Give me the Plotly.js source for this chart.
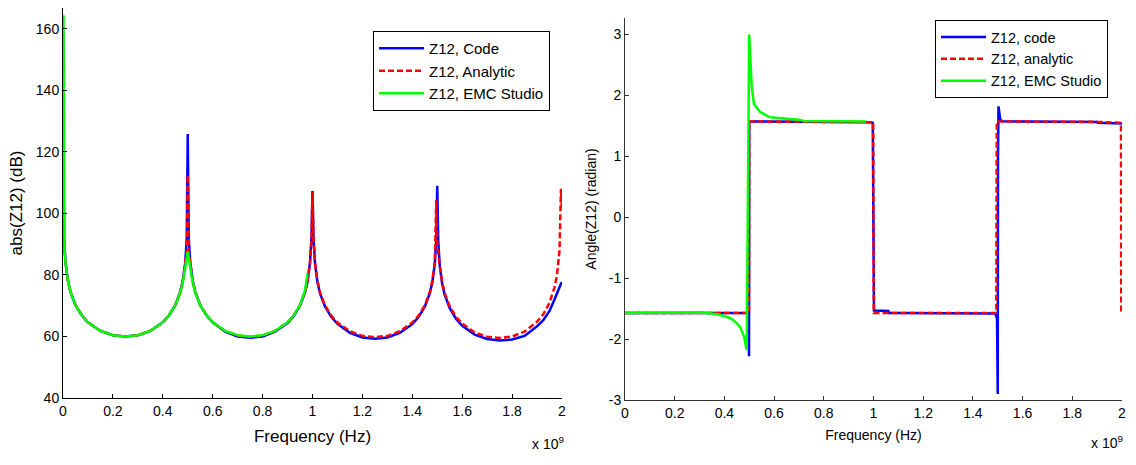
<!DOCTYPE html>
<html>
<head>
<meta charset="utf-8">
<script src="https://cdn.plot.ly/plotly-3.0.1.min.js"></script>
<style>
html,body{margin:0;padding:0;background:#fff;}
#chart{width:1136px;height:465px;}
</style>
</head>
<body>
<div id="chart"></div>
<script>
// ---- Magnitude plot data (frequency in units of 1e9 Hz) ----
const fMag = [0, 0.004, 0.01, 0.02, 0.03, 0.05, 0.075, 0.1, 0.15, 0.2, 0.25, 0.3, 0.35, 0.4, 0.425, 0.45, 0.47, 0.48, 0.49, 0.496, 0.5, 0.504, 0.51, 0.52, 0.53, 0.55, 0.575, 0.6, 0.65, 0.7, 0.75, 0.8, 0.85, 0.9, 0.925, 0.95, 0.97, 0.98, 0.99, 0.996, 1.0, 1.004, 1.01, 1.02, 1.03, 1.05, 1.075, 1.1, 1.15, 1.2, 1.25, 1.3, 1.35, 1.4, 1.425, 1.45, 1.47, 1.48, 1.49, 1.496, 1.5, 1.504, 1.51, 1.52, 1.53, 1.55, 1.575, 1.6, 1.65, 1.7, 1.75, 1.8, 1.85, 1.9, 1.925, 1.95, 1.97, 1.98, 1.99, 1.996, 2.0];
const magCode = [160, 92, 84, 78, 74.5, 70.2, 66.9, 64.6, 61.8, 60.4, 60, 60.4, 61.8, 64.6, 66.9, 70.2, 74.5, 78, 84, 92, 125.8, 92, 84, 78, 74.5, 70.2, 66.9, 64.6, 61.6, 60, 59.6, 60, 61.6, 64.4, 66.7, 70, 74.3, 77.8, 84, 92, 107.3, 92, 83.8, 77.6, 74, 69.8, 66.4, 64.1, 61.2, 59.7, 59.3, 59.7, 61.2, 64, 66.3, 69.7, 74, 77.5, 83.5, 91.5, 109, 91, 83, 77, 73.5, 69.2, 65.8, 63.5, 60.6, 59.2, 58.7, 59, 60.2, 63.3, 65.3, 68.3, 72, 74, 76.3, 77.2, 77.6];
const magAnalytic = [150, 92, 84, 78, 74.5, 70.2, 66.9, 64.6, 61.8, 60.4, 60, 60.4, 61.8, 64.6, 66.9, 70.2, 74.5, 78, 84, 88, 112.5, 88, 84, 78, 74.5, 70.2, 66.9, 64.6, 61.8, 60.3, 59.8, 60.3, 61.8, 64.6, 66.9, 70.2, 74.5, 78, 84, 92, 107, 92, 84, 78, 74.4, 70.1, 66.8, 64.5, 61.7, 60.2, 59.8, 60.2, 61.7, 64.5, 66.8, 70.1, 74.4, 78, 84, 104.4, 90, 86, 83, 77.5, 74, 69.8, 66.4, 64.2, 61.3, 59.9, 59.5, 60, 61.6, 64.8, 67.2, 71, 76, 80, 88, 108, 101];
const fMagEMC = [0, 0.002, 0.006, 0.01, 0.02, 0.03, 0.05, 0.075, 0.1, 0.15, 0.2, 0.25, 0.3, 0.35, 0.4, 0.425, 0.45, 0.47, 0.48, 0.49, 0.5, 0.51, 0.52, 0.53, 0.55, 0.575, 0.6, 0.65, 0.7, 0.75, 0.8, 0.85, 0.9, 0.925, 0.95, 0.97, 0.98];
const magEMC = [164, 164, 88, 84, 78, 74.5, 70.2, 66.9, 64.6, 61.8, 60.4, 60, 60.4, 61.8, 64.6, 66.9, 70.2, 74.3, 77.5, 82.5, 87.6, 82.5, 77.5, 74.3, 70.2, 66.9, 64.6, 61.8, 60.4, 60, 60.4, 61.8, 64.6, 66.9, 70.2, 75, 80.6];

// ---- Angle plot data ----
const fAngCode = [0, 0.1, 0.2, 0.3, 0.4, 0.45, 0.49, 0.497, 0.499, 0.5, 0.502, 0.55, 0.6, 0.7, 0.8, 0.9, 0.95, 0.99, 0.997, 0.999, 1.002, 1.06, 1.062, 1.1, 1.2, 1.3, 1.4, 1.45, 1.49, 1.497, 1.5, 1.501, 1.503, 1.51, 1.52, 1.6, 1.7, 1.8, 1.9, 1.902, 1.95, 2.0];
const angCode = [-1.571, -1.571, -1.571, -1.571, -1.571, -1.571, -1.571, -1.59, -2.28, 1.571, 1.571, 1.571, 1.571, 1.571, 1.571, 1.571, 1.571, 1.56, 1.55, -1.52, -1.53, -1.54, -1.571, -1.571, -1.571, -1.571, -1.571, -1.571, -1.58, -1.66, -2.9, 1.0, 1.82, 1.6, 1.575, 1.571, 1.571, 1.571, 1.565, 1.55, 1.55, 1.54];
const fAngAnalytic = [0, 0.1, 0.2, 0.3, 0.4, 0.499, 0.5, 0.6, 0.7, 0.8, 0.9, 0.999, 1.001, 1.1, 1.2, 1.3, 1.4, 1.494, 1.496, 1.6, 1.7, 1.8, 1.9, 1.99, 1.996, 1.997];
const angAnalytic = [-1.571, -1.571, -1.571, -1.571, -1.571, -1.571, 1.571, 1.571, 1.571, 1.571, 1.571, 1.56, -1.571, -1.571, -1.571, -1.571, -1.571, -1.571, 1.571, 1.571, 1.571, 1.571, 1.565, 1.55, 1.55, -1.55];
const fAngEMC = [0, 0.1, 0.2, 0.3, 0.35, 0.38, 0.42, 0.436, 0.45, 0.463, 0.479, 0.49, 0.4996, 0.505, 0.51, 0.519, 0.543, 0.583, 0.636, 0.7, 0.72, 0.8, 0.9, 0.97];
const angEMC = [-1.571, -1.571, -1.571, -1.565, -1.58, -1.6, -1.65, -1.69, -1.74, -1.8, -1.96, -2.18, 3.0, 2.5, 2.14, 1.86, 1.73, 1.64, 1.62, 1.6, 1.58, 1.575, 1.571, 1.571];

// ---- Tick labels ----
const xTickVals = [0, 0.2, 0.4, 0.6, 0.8, 1, 1.2, 1.4, 1.6, 1.8, 2];
const xTickText = ["0", "0.2", "0.4", "0.6", "0.8", "1", "1.2", "1.4", "1.6", "1.8", "2"];
const magTickVals = [40, 60, 80, 100, 120, 140, 160];
const magTickText = ["40", "60", "80", "100", "120", "140", "160"];
const angTickVals = [-3, -2, -1, 0, 1, 2, 3];
const angTickText = ["-3", "-2", "-1", "0", "1", "2", "3"];

const namesLeft = ["Z12, Code", "Z12, Analytic", "Z12, EMC Studio"];
const namesRight = ["Z12, code", "Z12, analytic", "Z12, EMC Studio"];

const BLUE = "#0000ff", RED = "#ff0000", GREEN = "#00ff00";
const LW = 2.5;

const traces = [
  {x: fMag, y: magCode, xaxis: "x", yaxis: "y", mode: "lines", name: namesLeft[0], line: {color: BLUE, width: LW}, legend: "legend"},
  {x: fMag, y: magAnalytic, xaxis: "x", yaxis: "y", mode: "lines", name: namesLeft[1], line: {color: RED, width: LW, dash: "6px,3px"}, legend: "legend"},
  {x: fMagEMC, y: magEMC, xaxis: "x", yaxis: "y", mode: "lines", name: namesLeft[2], line: {color: GREEN, width: LW}, legend: "legend"},
  {x: fAngCode, y: angCode, xaxis: "x2", yaxis: "y2", mode: "lines", name: namesRight[0], line: {color: BLUE, width: LW}, legend: "legend2"},
  {x: fAngAnalytic, y: angAnalytic, xaxis: "x2", yaxis: "y2", mode: "lines", name: namesRight[1], line: {color: RED, width: LW, dash: "6px,3px"}, legend: "legend2"},
  {x: fAngEMC, y: angEMC, xaxis: "x2", yaxis: "y2", mode: "lines", name: namesRight[2], line: {color: GREEN, width: LW}, legend: "legend2"}
];

const W = 1136, H = 465;
const FONT = "Liberation Sans, Arial, sans-serif";
function px(x) { return x / W; }
function py(y) { return (H - y) / H; }

const axisCommon = {
  showline: true, linecolor: "#000", linewidth: 1, mirror: false,
  ticks: "inside", ticklen: 4, tickcolor: "#000", tickwidth: 1,
  showgrid: false, zeroline: false, fixedrange: true,
  tickfont: {family: FONT, size: 14, color: "#000"}
};

const layout = {
  width: W, height: H,
  margin: {l: 0, r: 0, t: 0, b: 0},
  paper_bgcolor: "#fff", plot_bgcolor: "#fff",
  font: {family: FONT, color: "#000"},
  showlegend: true,
  xaxis: Object.assign({}, axisCommon, {
    domain: [px(63), px(562)], range: [0, 2], anchor: "y",
    tickvals: xTickVals, ticktext: xTickText,
    title: {text: "Frequency (Hz)", font: {family: FONT, size: 17, color: "#000"}, standoff: 12}
  }),
  yaxis: Object.assign({}, axisCommon, {
    domain: [py(398), py(8)], range: [40, 166.8], anchor: "x",
    tickvals: magTickVals, ticktext: magTickText,
    title: {text: "abs(Z12) (dB)", font: {family: FONT, size: 17, color: "#000"}, standoff: 8}
  }),
  xaxis2: Object.assign({}, axisCommon, {
    domain: [px(625), px(1122)], range: [0, 2], anchor: "y2",
    linecolor: "#333", tickcolor: "#333",
    tickvals: xTickVals, ticktext: xTickText,
    title: {text: "Frequency (Hz)", font: {family: FONT, size: 14, color: "#000"}, standoff: 10}
  }),
  yaxis2: Object.assign({}, axisCommon, {
    domain: [py(400), py(18)], range: [-3, 3.27], anchor: "x2",
    linecolor: "#333", tickcolor: "#333",
    tickvals: angTickVals, ticktext: angTickText,
    title: {text: "Angle(Z12) (radian)", font: {family: FONT, size: 14, color: "#000"}, standoff: 8}
  }),
  legend: {
    x: px(373), y: py(31), xanchor: "left", yanchor: "top",
    bgcolor: "#fff", bordercolor: "#000", borderwidth: 1,
    font: {family: FONT, size: 15, color: "#000"},
    itemwidth: 45, tracegroupgap: 0
  },
  legend2: {
    x: px(935), y: py(20), xanchor: "left", yanchor: "top",
    bgcolor: "#fff", bordercolor: "#000", borderwidth: 1,
    font: {family: FONT, size: 14.5, color: "#000"},
    itemwidth: 45, tracegroupgap: 0
  },
  annotations: [
    {xref: "paper", yref: "paper", x: px(548), y: py(443), text: "x 10<sup>9</sup>", showarrow: false,
     font: {family: FONT, size: 14, color: "#000"}, xanchor: "center", yanchor: "middle"},
    {xref: "paper", yref: "paper", x: px(1107), y: py(442), text: "x 10<sup>9</sup>", showarrow: false,
     font: {family: FONT, size: 14, color: "#000"}, xanchor: "center", yanchor: "middle"}
  ]
};

Plotly.newPlot("chart", traces, layout, {staticPlot: true, displayModeBar: false});
</script>
</body>
</html>
